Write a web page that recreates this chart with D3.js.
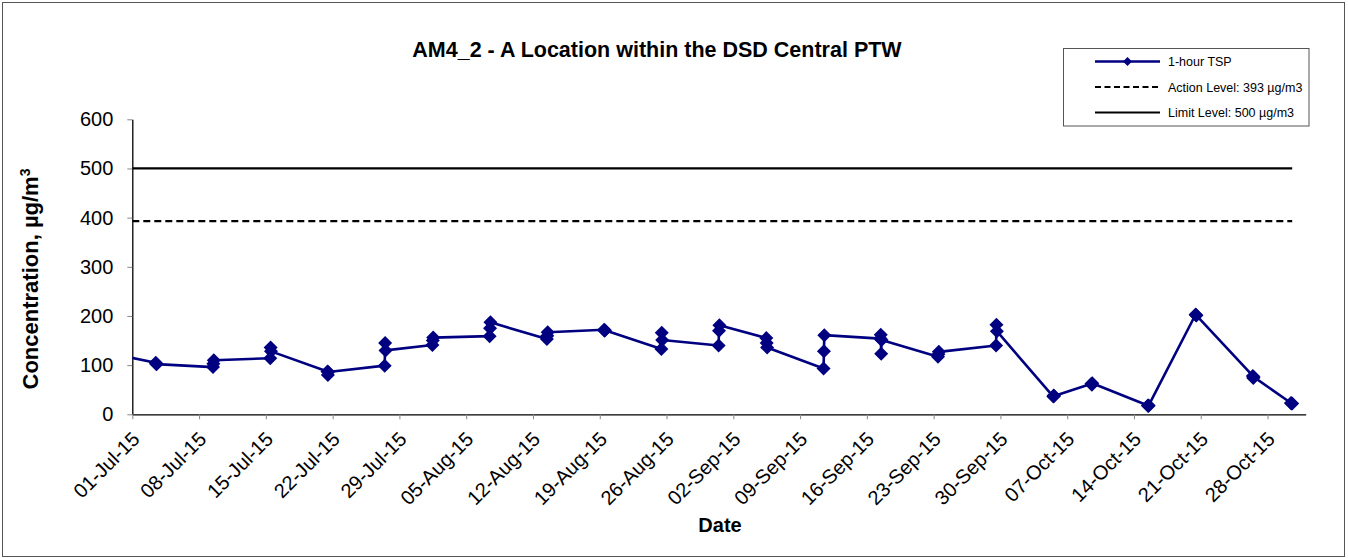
<!DOCTYPE html>
<html>
<head>
<meta charset="utf-8">
<script src="https://cdn.jsdelivr.net/npm/d3@7"></script>
<style>
  html, body { margin: 0; padding: 0; background: #fff; }
  svg { display: block; font-family: "Liberation Sans", Arial, sans-serif; }
</style>
</head>
<body>
<svg id="chart" width="1348" height="558"></svg>
<script>
// ---- data ----
const sampleTimes = [
  "2015-06-27 12:00",
  "2015-07-03 11:00", "2015-07-03 12:00", "2015-07-03 13:00",
  "2015-07-09 11:00", "2015-07-09 12:00", "2015-07-09 13:00",
  "2015-07-15 11:00", "2015-07-15 12:00", "2015-07-15 13:00",
  "2015-07-21 11:00", "2015-07-21 12:00", "2015-07-21 13:00",
  "2015-07-27 11:00", "2015-07-27 12:00", "2015-07-27 13:00",
  "2015-08-01 11:00", "2015-08-01 12:00", "2015-08-01 13:00",
  "2015-08-07 11:00", "2015-08-07 12:00", "2015-08-07 13:00",
  "2015-08-13 11:00", "2015-08-13 12:00", "2015-08-13 13:00",
  "2015-08-19 11:00", "2015-08-19 12:00", "2015-08-19 13:00",
  "2015-08-25 11:00", "2015-08-25 12:00", "2015-08-25 13:00",
  "2015-08-31 11:00", "2015-08-31 12:00", "2015-08-31 13:00",
  "2015-09-05 11:00", "2015-09-05 12:00", "2015-09-05 13:00",
  "2015-09-11 11:00", "2015-09-11 12:00", "2015-09-11 13:00",
  "2015-09-17 10:00", "2015-09-17 11:00", "2015-09-17 12:00", "2015-09-17 13:00",
  "2015-09-23 11:00", "2015-09-23 12:00", "2015-09-23 13:00",
  "2015-09-29 13:00", "2015-09-29 14:00", "2015-09-29 15:00",
  "2015-10-05 13:00", "2015-10-05 14:00", "2015-10-05 15:00",
  "2015-10-09 13:00", "2015-10-09 14:00", "2015-10-09 15:00",
  "2015-10-15 11:00", "2015-10-15 12:00", "2015-10-15 13:00",
  "2015-10-20 11:00", "2015-10-20 12:00", "2015-10-20 13:00",
  "2015-10-26 11:00", "2015-10-26 12:00", "2015-10-26 13:00",
  "2015-10-30 11:00", "2015-10-30 12:00", "2015-10-30 14:00"
];
const tspValues = [
  128,
  105, 103, 102,
  96, 103, 110,
  114, 136, 128,
  87, 80, 86,
  99, 145, 130,
  141, 150, 156,
  159, 175, 187,
  153, 160, 167,
  172, 170, 171,
  133, 166, 151,
  140, 170, 181,
  155, 145, 136,
  93, 128, 161,
  154, 162, 123, 151,
  117, 122, 127,
  140, 182, 169,
  36, 38, 37,
  62, 60, 63,
  18, 17, 18,
  203, 202, 201,
  78, 74, 76,
  23, 22, 22
];
const actionLevel = 393;
const limitLevel = 500;
const yTicks = [0, 100, 200, 300, 400, 500, 600];
const xTickLabels = ["01-Jul-15","08-Jul-15","15-Jul-15","22-Jul-15","29-Jul-15","05-Aug-15","12-Aug-15",
  "19-Aug-15","26-Aug-15","02-Sep-15","09-Sep-15","16-Sep-15","23-Sep-15","30-Sep-15",
  "07-Oct-15","14-Oct-15","21-Oct-15","28-Oct-15"];
const xDomain = ["01-Jul-15", "01-Nov-15"];
const legendLabels = ["1-hour TSP", "Action Level: 393 \u00b5g/m3", "Limit Level: 500 \u00b5g/m3"];
const titleText = "AM4_2 - A Location within the DSD Central PTW";

// ---- setup ----
const parseTime = d3.timeParse("%Y-%m-%d %H:%M");
const parseTick = d3.timeParse("%d-%b-%y");
const points = sampleTimes.map((t, i) => ({ t: parseTime(t), v: tspValues[i] }));
const tickDates = xTickLabels.map(parseTick);

const svg = d3.select("#chart");
const L = 132.3, R = 1305.7, T = 119.3, B = 414.3;

const x = d3.scaleTime().domain(xDomain.map(parseTick)).range([L, R]);
const y = d3.scaleLinear().domain([0, 600]).range([B, T]);

// outer border
svg.append("rect").attr("x", 2.5).attr("y", 2.5).attr("width", 1342).attr("height", 554)
  .attr("fill", "#fff").attr("stroke", "#555").attr("stroke-width", 1);

// title
svg.append("text").attr("x", 657).attr("y", 56.5).attr("text-anchor", "middle")
  .attr("font-size", 21.5).attr("font-weight", "bold").text(titleText);

// clip
svg.append("defs").append("clipPath").attr("id", "plotClip")
  .append("rect").attr("x", L).attr("y", 0).attr("width", 1348 - L).attr("height", 558);

// y axis
const yAxis = svg.append("g").attr("transform", `translate(${L},0)`)
  .call(d3.axisLeft(y).tickValues(yTicks).tickSize(5).tickPadding(14).tickSizeOuter(0));
yAxis.select(".domain").attr("stroke", "#000").attr("stroke-width", 1.3);
yAxis.selectAll(".tick line").attr("stroke", "#888");
yAxis.selectAll(".tick text").attr("font-size", 20).attr("fill", "#000")
  .attr("font-family", "Liberation Sans, Arial, sans-serif");

// x axis
const xAxis = svg.append("g").attr("transform", `translate(0,${B})`)
  .call(d3.axisBottom(x).tickValues(tickDates).tickSize(5).tickSizeOuter(0).tickFormat(() => ""));
xAxis.select(".domain").attr("stroke", "#000").attr("stroke-width", 1.3);
xAxis.selectAll(".tick line").attr("stroke", "#888");
xAxis.selectAll(".tick").append("text")
  .attr("transform", "translate(8,26) rotate(-45)")
  .attr("text-anchor", "end").attr("fill", "#000").attr("font-size", 20)
  .attr("font-family", "Liberation Sans, Arial, sans-serif")
  .text((d, i) => xTickLabels[i]);

// axis titles
svg.append("text").attr("x", 720).attr("y", 532).attr("text-anchor", "middle")
  .attr("font-size", 20).attr("font-weight", "bold").text("Date");
const yt = svg.append("text").attr("transform", "translate(38,279) rotate(-90)")
  .attr("text-anchor", "middle").attr("font-size", 22).attr("font-weight", "bold");
yt.append("tspan").text("Concentration, \u00b5g/m");
yt.append("tspan").attr("font-size", 14).attr("dy", -8).text("3");

// plot content
const plot = svg.append("g").attr("clip-path", "url(#plotClip)");
const lastT = points[points.length - 1].t;
const firstT = x.domain()[0];

plot.append("line").attr("x1", x(firstT)).attr("x2", x(lastT))
  .attr("y1", y(limitLevel)).attr("y2", y(limitLevel))
  .attr("stroke", "#000").attr("stroke-width", 2.2);
plot.append("line").attr("x1", x(firstT)).attr("x2", x(lastT))
  .attr("y1", y(actionLevel)).attr("y2", y(actionLevel))
  .attr("stroke", "#000").attr("stroke-width", 2.2).attr("stroke-dasharray", "7,4");

const line = d3.line().x(d => x(d.t)).y(d => y(d.v));
plot.append("path").datum(points).attr("d", line)
  .attr("fill", "none").attr("stroke", "#000080").attr("stroke-width", 2.6)
  .attr("stroke-linejoin", "round");

const diamond = s => `M0,${-s}L${s},0L0,${s}L${-s},0Z`;
plot.selectAll(".mk").data(points).enter().append("path")
  .attr("class", "mk")
  .attr("transform", d => `translate(${x(d.t)},${y(d.v)})`)
  .attr("d", diamond(7)).attr("fill", "#000080");

// legend
const lg = svg.append("g");
lg.append("rect").attr("x", 1063.5).attr("y", 48.5).attr("width", 245.5).attr("height", 77.5)
  .attr("fill", "#fff").attr("stroke", "#555").attr("stroke-width", 1);
const rows = [61.5, 87, 112.5];
lg.append("line").attr("x1", 1095).attr("x2", 1160).attr("y1", rows[0]).attr("y2", rows[0])
  .attr("stroke", "#000080").attr("stroke-width", 2.4);
lg.append("path").attr("transform", `translate(1127.5,${rows[0]})`).attr("d", diamond(4.5)).attr("fill", "#000080");
lg.append("line").attr("x1", 1095).attr("x2", 1160).attr("y1", rows[1]).attr("y2", rows[1])
  .attr("stroke", "#000").attr("stroke-width", 2.2).attr("stroke-dasharray", "6,3.5");
lg.append("line").attr("x1", 1095).attr("x2", 1160).attr("y1", rows[2]).attr("y2", rows[2])
  .attr("stroke", "#000").attr("stroke-width", 2.2);
legendLabels.forEach((t, i) => {
  lg.append("text").attr("x", 1168).attr("y", rows[i]).attr("dy", "0.36em")
    .attr("font-size", 12.5).text(t);
});
</script>
</body>
</html>
